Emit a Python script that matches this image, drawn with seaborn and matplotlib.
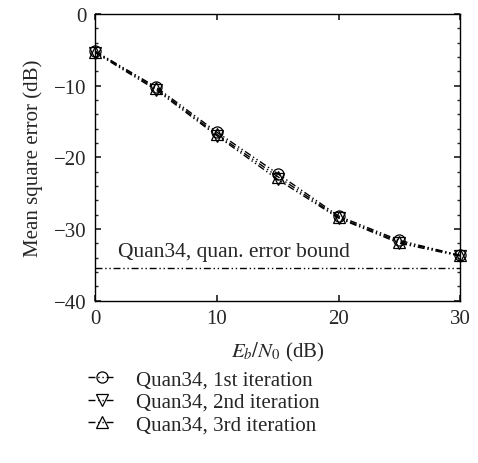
#!/usr/bin/env python3
# coding: utf-8

import pandas as pd
import seaborn as sns
import matplotlib.pyplot as plt

# ------------------------------------------------
# Data
# ------------------------------------------------
ebn0 = [0, 5, 10, 15, 20, 25, 30]
iter1 = [-5.2, -10.2, -16.5, -22.3, -28.2, -31.6, -33.7]
iter2 = [-5.4, -10.6, -17.0, -23.1, -28.5, -32.0, -33.8]
iter3 = [-5.3, -10.4, -16.8, -22.7, -28.4, -31.8, -33.7]
labels = ["Quan34, 1st iteration", "Quan34, 2nd iteration", "Quan34, 3rd iteration"]
markers = ["o", "v", "^"]
bound = -35.4
bound_label = "Quan34, quan. error bound"

# ------------------------------------------------
# Plot
# ------------------------------------------------
sns.set_theme(style="ticks")
plt.rcParams['font.family'] = ['Liberation Serif', 'DejaVu Serif']
plt.rcParams['mathtext.fontset'] = 'stix'

data = pd.DataFrame({"EbN0": ebn0 * 3,
                     "MSE": iter1 + iter2 + iter3,
                     "Series": [labels[0]] * 7 + [labels[1]] * 7 + [labels[2]] * 7})

fig = plt.figure(figsize=(4.78, 4.64), dpi=100)
ax = fig.add_axes([0.199, 0.35, 0.764, 0.618])

dashdotdot = (0, (5, 2, 1, 2, 1, 2))
for lab, m in zip(labels, markers):
    sub = data[data["Series"] == lab]
    sns.lineplot(x="EbN0", y="MSE", data=sub, ax=ax, color="black", lw=1.0,
                 linestyle=dashdotdot, marker=m, markersize=8,
                 markerfacecolor="none", markeredgecolor="black",
                 markeredgewidth=0.9, label=lab, clip_on=False)

ax.axhline(bound, color="black", lw=1.0, linestyle=dashdotdot)
ax.text(1.9, bound + 1.6, bound_label, fontsize=15.5)

ax.set_xlim(0, 30)
ax.set_ylim(-40, 0)
ax.set_xticks([0, 10, 20, 30])
ax.set_yticks([0, -10, -20, -30, -40])
ax.set_yticks(range(-40, 1, 2), minor=True)
ax.tick_params(direction="in", top=True, right=True, labelsize=15, length=4, pad=6)
ax.tick_params(which="minor", direction="in", left=True, right=True, length=2)
for s in ax.spines.values():
    s.set_linewidth(1.0)
    s.set_color("black")

ax.set_xlabel(r"$E_b/N_0$ (dB)", fontsize=15, labelpad=9)
ax.set_ylabel("Mean square error (dB)", fontsize=15, labelpad=8)

ax.legend(loc="upper left", bbox_to_anchor=(-0.07, -0.175), frameon=False,
          fontsize=15, handlelength=1.3, handletextpad=1.0, labelspacing=0.15)

plt.savefig("out.png", dpi=100)
